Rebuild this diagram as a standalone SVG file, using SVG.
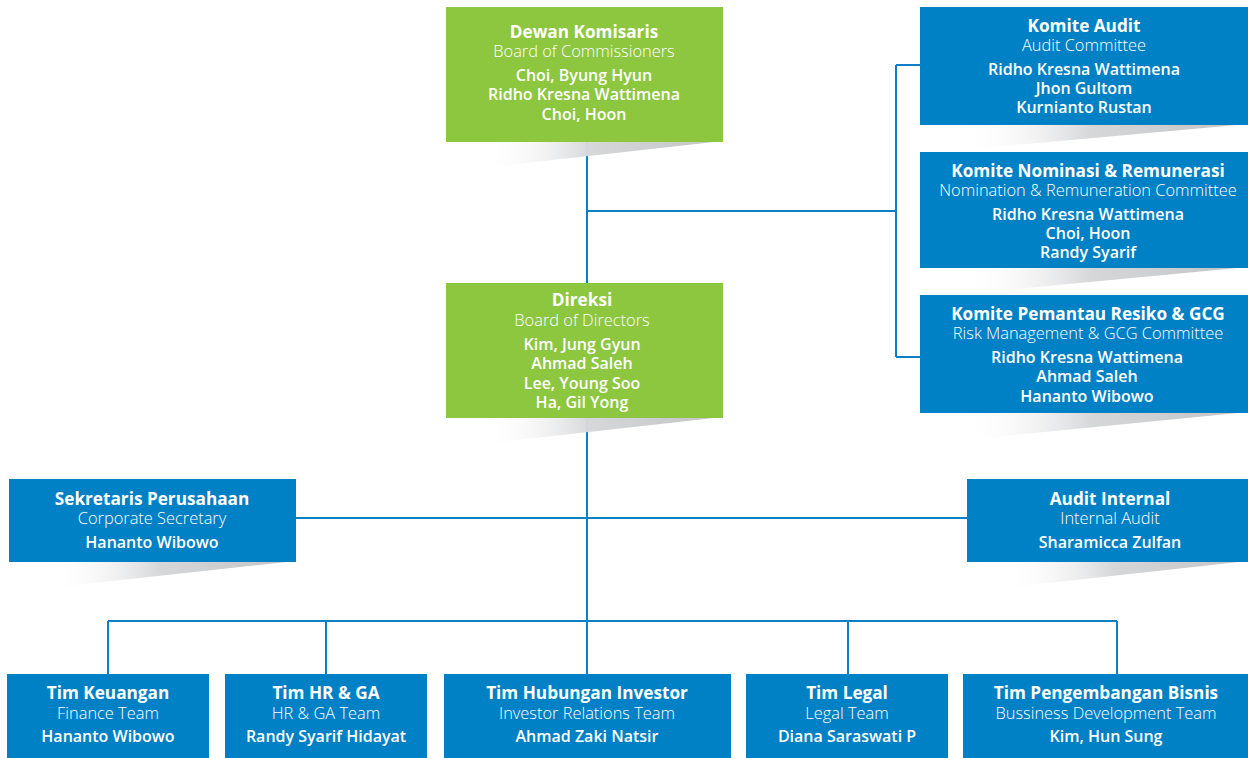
<svg xmlns="http://www.w3.org/2000/svg" width="1248" height="758" viewBox="0 0 1248 758">
<defs>
<linearGradient id="sh" x1="0" y1="0" x2="1" y2="0">
<stop offset="0" stop-color="#ffffff" stop-opacity="0"/>
<stop offset="0.45" stop-color="#d6d7d9"/>
<stop offset="1" stop-color="#c2c3c5"/>
</linearGradient>
<style>
.g{fill:#8dc63f}
.b{fill:#0081c6}
.sh{fill:url(#sh)}
.ln{stroke:#0b80c6;stroke-width:2;fill:none}
text{font-family:"Open Sans","Noto Sans","Liberation Sans",sans-serif;fill:#ffffff;text-anchor:middle}
.t{font-size:17.2px;font-weight:700}
.s{font-size:16.4px;font-weight:300}
.n{font-size:16px;font-weight:600}
</style>
</defs>
<rect width="1248" height="758" fill="#ffffff"/>
<g id="connectors">
<path class="ln" d="M587 142V283M587 418V621M587 211H896M896 65V357M896 65H920M896 357H920M296 518H967M108 621H1117M108 621V674M326 621V674M587 621V674M848 621V674M1117 621V674"/>
</g>
<g id="dewan-komisaris">
<polygon class="sh" points="482,141 723,141 482,168"/>
<rect class="g" x="446" y="7" width="277" height="135"/>
<text class="t" x="584" y="38">Dewan Komisaris</text>
<text class="s" x="584" y="57">Board of Commissioners</text>
<text class="n" x="584" y="81">Choi, Byung Hyun</text>
<text class="n" x="584" y="100">Ridho Kresna Wattimena</text>
<text class="n" x="584" y="120">Choi, Hoon</text>
</g>
<g id="komite-audit">
<polygon class="sh" points="962,124 1248,124 962,150"/>
<rect class="b" x="920" y="7" width="328" height="118"/>
<text class="t" x="1084" y="32">Komite Audit</text>
<text class="s" x="1084" y="51">Audit Committee</text>
<text class="n" x="1084" y="75">Ridho Kresna Wattimena</text>
<text class="n" x="1084" y="94">Jhon Gultom</text>
<text class="n" x="1084" y="113">Kurnianto Rustan</text>
</g>
<g id="komite-nominasi">
<polygon class="sh" points="962,267 1248,267 962,294"/>
<rect class="b" x="920" y="152" width="328" height="116"/>
<text class="t" x="1088" y="177">Komite Nominasi &amp; Remunerasi</text>
<text class="s" x="1088" y="196">Nomination &amp; Remuneration Committee</text>
<text class="n" x="1088" y="220">Ridho Kresna Wattimena</text>
<text class="n" x="1088" y="239">Choi, Hoon</text>
<text class="n" x="1088" y="258">Randy Syarif</text>
</g>
<g id="komite-resiko">
<polygon class="sh" points="963,412 1248,412 963,440"/>
<rect class="b" x="920" y="295" width="328" height="118"/>
<text class="t" x="1088" y="320">Komite Pemantau Resiko &amp; GCG</text>
<text class="s" x="1088" y="339">Risk Management &amp; GCG Committee</text>
<text class="n" x="1087" y="363">Ridho Kresna Wattimena</text>
<text class="n" x="1087" y="382">Ahmad Saleh</text>
<text class="n" x="1087" y="402">Hananto Wibowo</text>
</g>
<g id="direksi">
<polygon class="sh" points="482,417 723,417 482,444"/>
<rect class="g" x="446" y="283" width="277" height="135"/>
<text class="t" x="582" y="306">Direksi</text>
<text class="s" x="582" y="326">Board of Directors</text>
<text class="n" x="582" y="350">Kim, Jung Gyun</text>
<text class="n" x="582" y="369">Ahmad Saleh</text>
<text class="n" x="582" y="389">Lee, Young Soo</text>
<text class="n" x="582" y="408">Ha, Gil Yong</text>
</g>
<g id="sekretaris">
<polygon class="sh" points="48,561 296,561 48,588"/>
<rect class="b" x="9" y="479" width="287" height="83"/>
<text class="t" x="152" y="505">Sekretaris Perusahaan</text>
<text class="s" x="152" y="524">Corporate Secretary</text>
<text class="n" x="152" y="548">Hananto Wibowo</text>
</g>
<g id="audit-internal">
<polygon class="sh" points="1003,561 1248,561 1003,588"/>
<rect class="b" x="967" y="479" width="281" height="83"/>
<text class="t" x="1110" y="505">Audit Internal</text>
<text class="s" x="1110" y="524">Internal Audit</text>
<text class="n" x="1110" y="548">Sharamicca Zulfan</text>
</g>
<g id="tim-keuangan">
<rect class="b" x="7" y="674" width="202" height="84"/>
<text class="t" x="108" y="699">Tim Keuangan</text>
<text class="s" x="108" y="719">Finance Team</text>
<text class="n" x="108" y="742">Hananto Wibowo</text>
</g>
<g id="tim-hr-ga">
<rect class="b" x="225" y="674" width="202" height="84"/>
<text class="t" x="326" y="699">Tim HR &amp; GA</text>
<text class="s" x="326" y="719">HR &amp; GA Team</text>
<text class="n" x="326" y="742">Randy Syarif Hidayat</text>
</g>
<g id="tim-investor">
<rect class="b" x="444" y="674" width="287" height="84"/>
<text class="t" x="587" y="699">Tim Hubungan Investor</text>
<text class="s" x="587" y="719">Investor Relations Team</text>
<text class="n" x="587" y="742">Ahmad Zaki Natsir</text>
</g>
<g id="tim-legal">
<rect class="b" x="746" y="674" width="202" height="84"/>
<text class="t" x="847" y="699">Tim Legal</text>
<text class="s" x="847" y="719">Legal Team</text>
<text class="n" x="847" y="742">Diana Saraswati P</text>
</g>
<g id="tim-bisnis">
<rect class="b" x="963" y="674" width="285" height="84"/>
<text class="t" x="1106" y="699">Tim Pengembangan Bisnis</text>
<text class="s" x="1106" y="719">Bussiness Development Team</text>
<text class="n" x="1106" y="742">Kim, Hun Sung</text>
</g>
</svg>
